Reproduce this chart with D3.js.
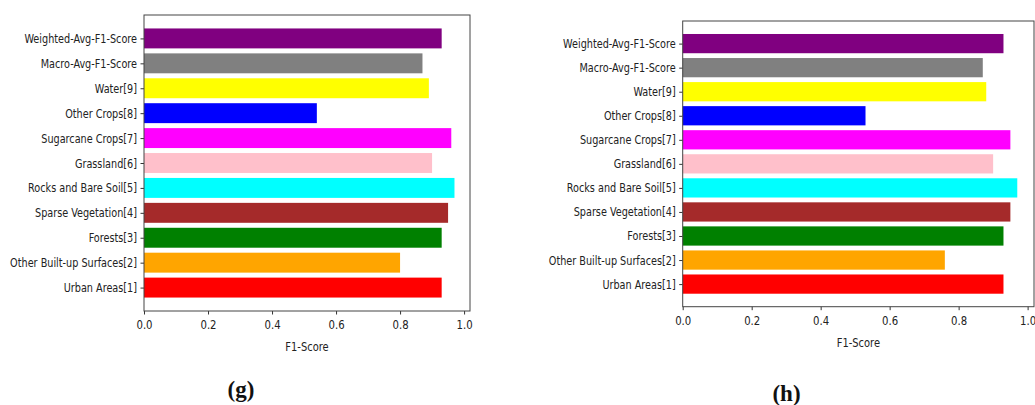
<!DOCTYPE html>
<html>
<head>
<meta charset="utf-8">
<script src="https://cdn.jsdelivr.net/npm/d3@7"></script>
<style>
  html, body { margin: 0; padding: 0; background: #fff; }
  svg { display: block; }
  .tick text { font-family: "DejaVu Sans Condensed", "DejaVu Sans", sans-serif; }
</style>
</head>
<body>
<svg id="chart" width="1035" height="405"></svg>
<script>
// Categories listed bottom to top (matplotlib barh order)
const categories = [
  "Urban Areas[1]",
  "Other Built-up Surfaces[2]",
  "Forests[3]",
  "Sparse Vegetation[4]",
  "Rocks and Bare Soil[5]",
  "Grassland[6]",
  "Sugarcane Crops[7]",
  "Other Crops[8]",
  "Water[9]",
  "Macro-Avg-F1-Score",
  "Weighted-Avg-F1-Score"
];
const barColors = [
  "#ff0000", "#ffa500", "#008000", "#a52a2a", "#00ffff",
  "#ffc0cb", "#ff00ff", "#0000ff", "#ffff00", "#808080", "#800080"
];
const valuesG = [0.93, 0.80, 0.93, 0.95, 0.97, 0.90, 0.96, 0.54, 0.89, 0.87, 0.93];
const valuesH = [0.93, 0.76, 0.93, 0.95, 0.97, 0.90, 0.95, 0.53, 0.88, 0.87, 0.93];
const xTicks = [0.0, 0.2, 0.4, 0.6, 0.8, 1.0];
const xLabel = "F1-Score";
const captions = ["(g)", "(h)"];

const svg = d3.select("#chart");

const panels = [
  { values: valuesG, caption: captions[0], left: 144, right: 470, top: 15, bottom: 311, capX: 241, capY: 397 },
  { values: valuesH, caption: captions[1], left: 682.7, right: 1034, top: 21, bottom: 306.7, capX: 786.5, capY: 401 }
];

function squeeze(sel, f) {
  sel.each(function() {
    const w = this.getComputedTextLength();
    d3.select(this).attr("textLength", w * f).attr("lengthAdjust", "spacingAndGlyphs");
  });
}

panels.forEach(p => {
  const xMax = d3.max(p.values) * 1.05;
  const x = d3.scaleLinear().domain([0, xMax]).range([p.left, p.right]);
  const n = categories.length;
  const y = d3.scaleLinear().domain([-0.4 - 0.54, (n - 1) + 0.4 + 0.54]).range([p.bottom, p.top]);
  const g = svg.append("g");

  // bars
  g.selectAll("rect.bar")
    .data(p.values)
    .join("rect")
    .attr("class", "bar")
    .attr("x", x(0))
    .attr("y", (d, i) => y(i + 0.4))
    .attr("width", d => x(d) - x(0))
    .attr("height", (d, i) => y(i - 0.4) - y(i + 0.4))
    .attr("fill", (d, i) => barColors[i]);

  // x axis
  const xAxis = d3.axisBottom(x).tickValues(xTicks).tickFormat(d3.format(".1f")).tickSize(3.5).tickPadding(6);
  const xa = g.append("g").attr("transform", `translate(0,${p.bottom})`).call(xAxis);
  xa.select(".domain").remove();
  xa.selectAll(".tick line").attr("stroke", "#333");
  xa.selectAll(".tick text").attr("font-size", 12.5).attr("fill", "#222");
  squeeze(xa.selectAll(".tick text"), 0.9);

  // y axis
  const yAxis = d3.axisLeft(y).tickValues(d3.range(n)).tickFormat(i => categories[i]).tickSize(3.5).tickPadding(3.5);
  const ya = g.append("g").attr("transform", `translate(${p.left},0)`).call(yAxis);
  ya.select(".domain").remove();
  ya.selectAll(".tick line").attr("stroke", "#333");
  ya.selectAll(".tick text").attr("font-size", 12.5).attr("fill", "#222");
  squeeze(ya.selectAll(".tick text"), 0.86);

  // frame
  g.append("rect")
    .attr("x", p.left).attr("y", p.top)
    .attr("width", p.right - p.left).attr("height", p.bottom - p.top)
    .attr("fill", "none").attr("stroke", "#444").attr("stroke-width", 1);

  // x label
  const xl = g.append("text")
    .attr("x", (p.left + p.right) / 2)
    .attr("y", p.bottom + 40)
    .attr("text-anchor", "middle")
    .attr("font-family", "'DejaVu Sans Condensed', 'DejaVu Sans', sans-serif")
    .attr("font-size", 12.5)
    .attr("fill", "#222")
    .text(xLabel);
  squeeze(xl, 0.88);

  // caption
  svg.append("text")
    .attr("x", p.capX)
    .attr("y", p.capY)
    .attr("text-anchor", "middle")
    .attr("font-family", "'Liberation Serif', serif")
    .attr("font-weight", "bold")
    .attr("font-size", 23)
    .attr("fill", "#111")
    .text(p.caption);
});
</script>
</body>
</html>
